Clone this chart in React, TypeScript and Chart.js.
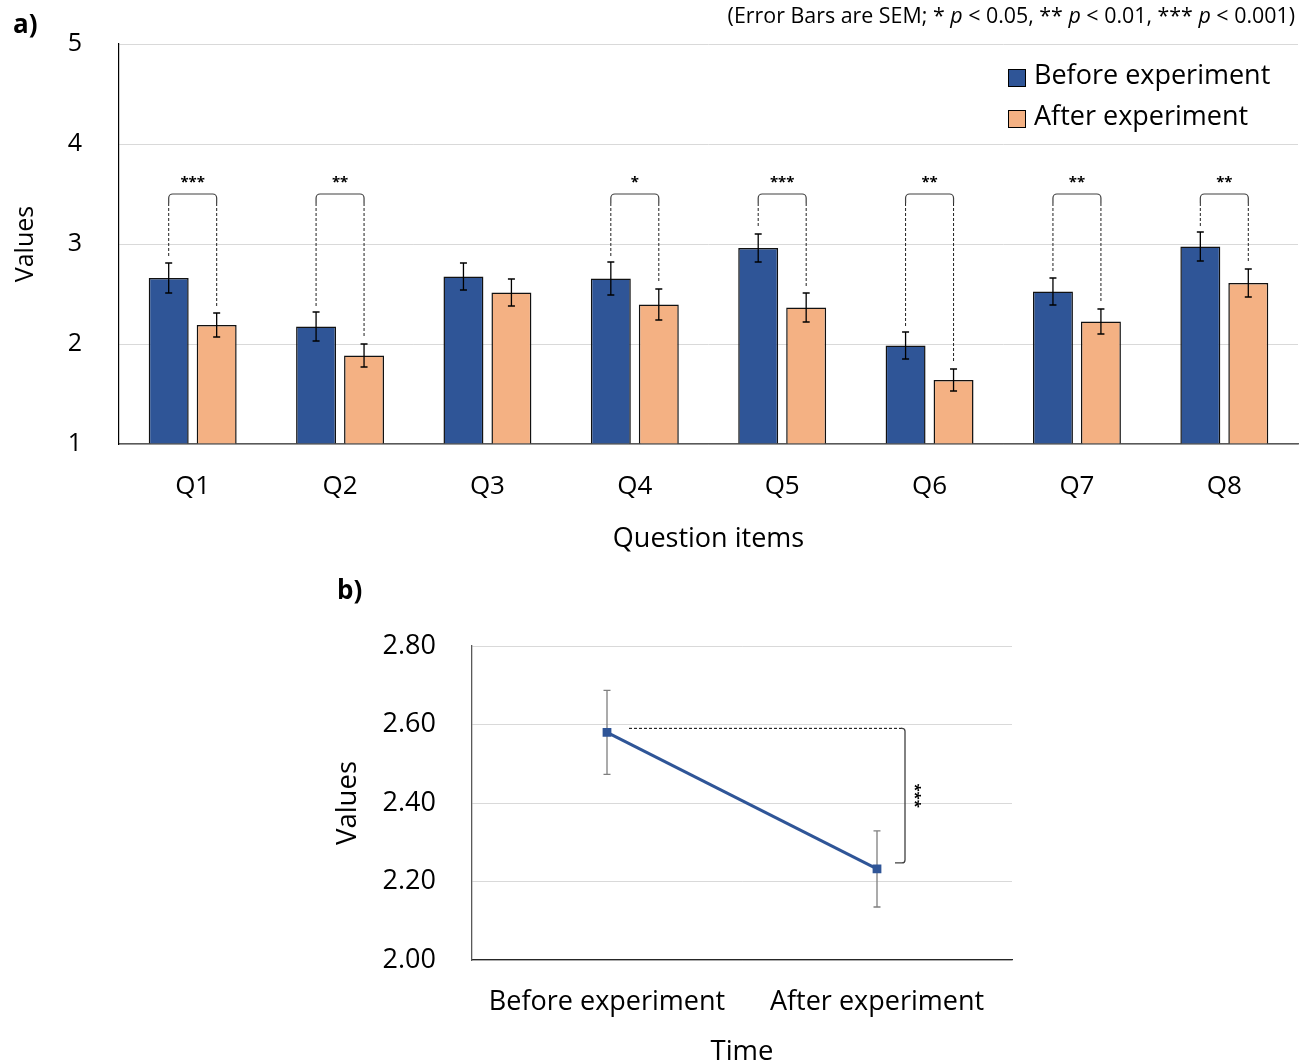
import React, { useEffect, useRef } from "react";
import { Chart, registerables } from "chart.js";

Chart.register(...registerables);

// ---------- data: panel a ----------
const QUESTIONS = ["Q1", "Q2", "Q3", "Q4", "Q5", "Q6", "Q7", "Q8"];
const BEFORE_MEANS = [2.66, 2.175, 2.675, 2.655, 2.96, 1.985, 2.525, 2.975];
const BEFORE_SEM = [0.15, 0.145, 0.135, 0.165, 0.14, 0.135, 0.135, 0.145];
const AFTER_MEANS = [2.19, 1.885, 2.515, 2.395, 2.365, 1.64, 2.225, 2.61];
const AFTER_SEM = [0.12, 0.115, 0.135, 0.155, 0.145, 0.11, 0.125, 0.14];
const SIGNIFICANCE = ["***", "**", "", "*", "***", "**", "**", "**"];
const BRACKET_LEVEL = 3.5;
const SERIES_LABELS = ["Before experiment", "After experiment"];

// ---------- data: panel b ----------
const TIME_LABELS = ["Before experiment", "After experiment"];
const OVERALL_MEANS = [2.58, 2.232];
const OVERALL_SEM = [0.107, 0.097];
const OVERALL_SIG = "***";

const BLUE = "#2F5597";
const ORANGE = "#F4B183";
const FONT = '"Open Sans"';

const NOTE_PARTS: { t: string; i: boolean }[] = [
  { t: "(Error Bars are SEM; * ", i: false },
  { t: "p", i: true },
  { t: " < 0.05, ** ", i: false },
  { t: "p", i: true },
  { t: " < 0.01, *** ", i: false },
  { t: "p", i: true },
  { t: " < 0.001)", i: false },
];

const barExtras = {
  id: "barExtras",
  afterDatasetsDraw(chart: any) {
    const { ctx } = chart;
    const y = chart.scales.y;
    const means = [BEFORE_MEANS, AFTER_MEANS];
    const sems = [BEFORE_SEM, AFTER_SEM];
    ctx.save();
    // error bars
    [0, 1].forEach((di) => {
      const meta = chart.getDatasetMeta(di);
      meta.data.forEach((bar: any, i: number) => {
        const x = bar.x;
        const yt = y.getPixelForValue(means[di][i] + sems[di][i]);
        const yb = y.getPixelForValue(means[di][i] - sems[di][i]);
        ctx.strokeStyle = "#000";
        ctx.lineWidth = 1.3;
        ctx.setLineDash([]);
        ctx.beginPath();
        ctx.moveTo(x, yt);
        ctx.lineTo(x, yb);
        ctx.moveTo(x - 3.5, yt);
        ctx.lineTo(x + 3.5, yt);
        ctx.moveTo(x - 3.5, yb);
        ctx.lineTo(x + 3.5, yb);
        ctx.stroke();
      });
    });
    // significance brackets
    const m0 = chart.getDatasetMeta(0);
    const m1 = chart.getDatasetMeta(1);
    const yBr = y.getPixelForValue(BRACKET_LEVEL);
    const r = 4;
    SIGNIFICANCE.forEach((s, i) => {
      if (!s) return;
      const x1 = m0.data[i].x;
      const x2 = m1.data[i].x;
      const e1 = y.getPixelForValue(BEFORE_MEANS[i] + BEFORE_SEM[i]) - 6;
      const e2 = y.getPixelForValue(AFTER_MEANS[i] + AFTER_SEM[i]) - 6;
      ctx.strokeStyle = "#404040";
      ctx.lineWidth = 1.2;
      ctx.setLineDash([]);
      ctx.beginPath();
      ctx.moveTo(x1, yBr + r + 5);
      ctx.arcTo(x1, yBr, x1 + r, yBr, r);
      ctx.lineTo(x2 - r, yBr);
      ctx.arcTo(x2, yBr, x2, yBr + r, r);
      ctx.lineTo(x2, yBr + r + 5);
      ctx.stroke();
      ctx.strokeStyle = "#202020";
      ctx.lineWidth = 1;
      ctx.setLineDash([3, 2]);
      ctx.beginPath();
      ctx.moveTo(x1, yBr + r + 5);
      ctx.lineTo(x1, e1);
      ctx.moveTo(x2, yBr + r + 5);
      ctx.lineTo(x2, e2);
      ctx.stroke();
      ctx.setLineDash([]);
      ctx.fillStyle = "#000";
      ctx.font = `bold 15px ${FONT}`;
      ctx.textAlign = "center";
      ctx.textBaseline = "middle";
      ctx.fillText(s, (x1 + x2) / 2, yBr - 11);
    });
    ctx.restore();
  },
  afterDraw(chart: any) {
    const { ctx, chartArea } = chart;
    ctx.save();
    // legend
    chart.data.datasets.forEach((ds: any, i: number) => {
      const bx = chartArea.right - 290;
      const by = chartArea.top + 25 + i * 41;
      ctx.fillStyle = ds.backgroundColor;
      ctx.fillRect(bx, by, 18, 18);
      ctx.strokeStyle = "#000";
      ctx.lineWidth = 1;
      ctx.strokeRect(bx + 0.5, by + 0.5, 17, 17);
      ctx.fillStyle = "#000";
      ctx.font = `27px ${FONT}`;
      ctx.textAlign = "left";
      ctx.textBaseline = "alphabetic";
      ctx.fillText(ds.label, bx + 26, by + 15);
    });
    // panel label
    ctx.font = `bold 26px ${FONT}`;
    ctx.textAlign = "left";
    ctx.textBaseline = "middle";
    ctx.fillText("a)", 13, 26);
    // note
    const size = 21.4;
    let total = 0;
    NOTE_PARTS.forEach((p) => {
      ctx.font = `${p.i ? "italic " : ""}${size}px ${FONT}`;
      total += ctx.measureText(p.t).width;
    });
    let x = 1295 - total;
    ctx.textBaseline = "middle";
    NOTE_PARTS.forEach((p) => {
      ctx.font = `${p.i ? "italic " : ""}${size}px ${FONT}`;
      ctx.fillText(p.t, x, 17);
      x += ctx.measureText(p.t).width;
    });
    ctx.restore();
  },
};

const lineExtras = {
  id: "lineExtras",
  beforeDatasetsDraw(chart: any) {
    const { ctx } = chart;
    const y = chart.scales.y;
    const meta = chart.getDatasetMeta(0);
    ctx.save();
    ctx.strokeStyle = "#7F7F7F";
    ctx.lineWidth = 1.3;
    meta.data.forEach((pt: any, i: number) => {
      const x = pt.x;
      const yt = y.getPixelForValue(OVERALL_MEANS[i] + OVERALL_SEM[i]);
      const yb = y.getPixelForValue(OVERALL_MEANS[i] - OVERALL_SEM[i]);
      ctx.beginPath();
      ctx.moveTo(x, yt);
      ctx.lineTo(x, yb);
      ctx.moveTo(x - 3.5, yt);
      ctx.lineTo(x + 3.5, yt);
      ctx.moveTo(x - 3.5, yb);
      ctx.lineTo(x + 3.5, yb);
      ctx.stroke();
    });
    ctx.restore();
  },
  afterDatasetsDraw(chart: any) {
    const { ctx } = chart;
    const meta = chart.getDatasetMeta(0);
    const p0 = meta.data[0];
    const p1 = meta.data[1];
    const yTop = p0.y - 4;
    const yBot = p1.y - 6;
    const xBr = p1.x + 28;
    const r = 3;
    ctx.save();
    ctx.strokeStyle = "#000";
    ctx.lineWidth = 1;
    ctx.setLineDash([3, 2]);
    ctx.beginPath();
    ctx.moveTo(p0.x + 22, yTop);
    ctx.lineTo(xBr - r, yTop);
    ctx.stroke();
    ctx.setLineDash([]);
    ctx.strokeStyle = "#404040";
    ctx.lineWidth = 1.3;
    ctx.beginPath();
    ctx.moveTo(xBr - r - 1, yTop);
    ctx.arcTo(xBr, yTop, xBr, yTop + r, r);
    ctx.lineTo(xBr, yBot - r);
    ctx.arcTo(xBr, yBot, xBr - r, yBot, r);
    ctx.lineTo(xBr - 10, yBot);
    ctx.stroke();
    ctx.translate(xBr + 9, (yTop + yBot) / 2);
    ctx.rotate(Math.PI / 2);
    ctx.fillStyle = "#000";
    ctx.font = `bold 15px ${FONT}`;
    ctx.textAlign = "center";
    ctx.textBaseline = "middle";
    ctx.fillText(OVERALL_SIG, 0, 0);
    ctx.restore();
  },
  afterDraw(chart: any) {
    const { ctx } = chart;
    ctx.save();
    ctx.fillStyle = "#000";
    ctx.font = `bold 26px ${FONT}`;
    ctx.textAlign = "left";
    ctx.textBaseline = "middle";
    ctx.fillText("b)", 7, 22);
    ctx.restore();
  },
};

export default function App() {
  const refA = useRef<HTMLCanvasElement>(null);
  const refB = useRef<HTMLCanvasElement>(null);

  useEffect(() => {
    let chartA: Chart | null = null;
    let chartB: Chart | null = null;
    let cancelled = false;
    Chart.defaults.font.family = FONT;
    Chart.defaults.color = "#000";

    const build = () => {
      if (cancelled || !refA.current || !refB.current) return;
      chartA = new Chart(refA.current, {
        type: "bar",
        data: {
          labels: QUESTIONS,
          datasets: [
            {
              label: SERIES_LABELS[0],
              data: BEFORE_MEANS,
              backgroundColor: BLUE,
              borderColor: "#111",
              borderWidth: 1.5,
              base: 1,
            } as any,
            {
              label: SERIES_LABELS[1],
              data: AFTER_MEANS,
              backgroundColor: ORANGE,
              borderColor: "#111",
              borderWidth: 1.5,
              base: 1,
            } as any,
          ],
        },
        options: {
          responsive: false,
          animation: false,
          devicePixelRatio: 1,
          layout: { padding: { left: 0, right: 8, top: 44, bottom: 0 } },
          datasets: { bar: { categoryPercentage: 0.651, barPercentage: 0.833 } },
          plugins: { legend: { display: false }, tooltip: { enabled: false } },
          scales: {
            x: {
              grid: { display: false },
              border: { color: "#595959", width: 1.5 },
              ticks: { font: { size: 26 }, padding: 19, maxRotation: 0, color: "#000" },
              title: {
                display: true,
                text: "Question items",
                font: { size: 27 },
                padding: { top: 0, bottom: 14 },
                color: "#000",
              },
              afterFit: (s: any) => {
                s.height = 126;
              },
            },
            y: {
              min: 1,
              max: 5,
              ticks: { stepSize: 1, font: { size: 25 }, padding: 0, color: "#000" },
              grid: {
                color: "#D9D9D9",
                lineWidth: 1,
                drawTicks: true,
                tickLength: 37,
                tickColor: "rgba(0,0,0,0)",
              },
              border: { color: "#000", width: 1.2 },
              title: {
                display: true,
                text: "Values",
                font: { size: 25 },
                padding: { top: 11, bottom: 0 },
                color: "#000",
              },
              afterFit: (s: any) => {
                s.width = 119;
              },
            },
          },
        },
        plugins: [barExtras],
      });

      chartB = new Chart(refB.current, {
        type: "line",
        data: {
          labels: TIME_LABELS,
          datasets: [
            {
              label: "Values",
              data: OVERALL_MEANS,
              borderColor: BLUE,
              backgroundColor: BLUE,
              borderWidth: 3,
              pointStyle: "rect",
              pointRadius: 6.2,
              pointBackgroundColor: BLUE,
              pointBorderColor: BLUE,
              pointBorderWidth: 0,
              tension: 0,
            },
          ],
        },
        options: {
          responsive: false,
          animation: false,
          devicePixelRatio: 1,
          layout: { padding: { left: 0, right: 18, top: 76, bottom: 0 } },
          plugins: { legend: { display: false }, tooltip: { enabled: false } },
          scales: {
            x: {
              offset: true,
              grid: { display: false },
              border: { color: "#262626", width: 1.3 },
              ticks: { font: { size: 27 }, padding: 18, maxRotation: 0, autoSkip: false, color: "#000" },
              title: {
                display: true,
                text: "Time",
                font: { size: 27.5 },
                padding: { top: 0, bottom: 11.5 },
                color: "#000",
              },
              afterFit: (s: any) => {
                s.height = 120;
              },
            },
            y: {
              min: 2,
              max: 2.8,
              ticks: {
                stepSize: 0.2,
                font: { size: 27 },
                padding: 0,
                color: "#000",
                callback: (v: any) => Number(v).toFixed(2),
              },
              grid: {
                color: "#D9D9D9",
                lineWidth: 1,
                drawTicks: true,
                tickLength: 36,
                tickColor: "rgba(0,0,0,0)",
              },
              border: { color: "#595959", width: 1.3 },
              title: {
                display: true,
                text: "Values",
                font: { size: 27.5 },
                padding: { top: 1.5, bottom: 0 },
                color: "#000",
              },
              afterFit: (s: any) => {
                s.width = 142;
              },
            },
          },
        },
        plugins: [lineExtras],
      });
    };

    const fontsApi: any = (document as any).fonts;
    if (fontsApi && fontsApi.load) {
      Promise.all([
        fontsApi.load(`25px ${FONT}`),
        fontsApi.load(`bold 25px ${FONT}`),
        fontsApi.load(`italic 19px ${FONT}`),
      ])
        .catch(() => null)
        .then(build);
    } else {
      build();
    }

    return () => {
      cancelled = true;
      if (chartA) chartA.destroy();
      if (chartB) chartB.destroy();
    };
  }, []);

  return (
    <div
      style={{
        position: "absolute",
        left: 0,
        top: 0,
        width: 1306,
        height: 1063,
        overflow: "hidden",
        background: "#fff",
      }}
    >
      <canvas
        ref={refA}
        width={1306}
        height={570}
        style={{ position: "absolute", left: 0, top: 0, width: 1306, height: 570 }}
      />
      <canvas
        ref={refB}
        width={700}
        height={510}
        style={{ position: "absolute", left: 330, top: 570, width: 700, height: 510 }}
      />
    </div>
  );
}
